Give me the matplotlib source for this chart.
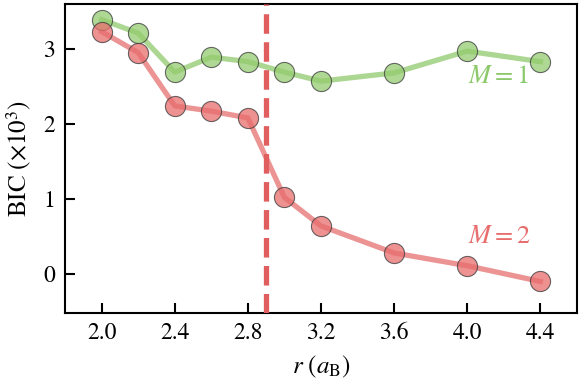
import matplotlib
matplotlib.use("Agg")
import matplotlib.pyplot as plt

r = [2.0, 2.2, 2.4, 2.6, 2.8, 3.0, 3.2, 3.6, 4.0, 4.4]
bic_m1 = [3.39, 3.21, 2.69, 2.89, 2.83, 2.69, 2.57, 2.68, 2.97, 2.83]
bic_m2 = [3.23, 2.95, 2.24, 2.17, 2.08, 1.02, 0.64, 0.28, 0.11, -0.10]
r_crit = 2.9
xticks = [2.0, 2.4, 2.8, 3.2, 3.6, 4.0, 4.4]
yticks = [0, 1, 2, 3]

plt.rcParams['font.family'] = ['STIXGeneral', 'DejaVu Serif']
plt.rcParams['mathtext.fontset'] = 'stix'

fig = plt.figure(figsize=(5.81, 3.85), dpi=100)
ax = fig.add_axes([0.112, 0.187, 0.881, 0.803])

green_line = '#acd792'
green_mk = '#93cc6f'
red_line = '#ec9494'
red_mk = '#e86d6d'

ax.plot(r, bic_m1, '-', color=green_line, lw=3.8, zorder=2)
ax.plot(r, bic_m1, 'o', ms=14.5, mfc=green_mk, mec='#3a3a3a', mew=0.8, alpha=0.75, zorder=3)
ax.plot(r, bic_m2, '-', color=red_line, lw=3.8, zorder=2)
ax.plot(r, bic_m2, 'o', ms=14.5, mfc=red_mk, mec='#3a3a3a', mew=0.8, alpha=0.75, zorder=3)
ax.axvline(r_crit, color='#e05e5e', lw=3.8, ls=(0, (3.7, 1.6)), zorder=4)

ax.text(4.005, 2.63, r'$M=1$', color='#8cc96b', fontsize=19, ha='left', va='center')
ax.text(4.005, 0.49, r'$M=2$', color='#e86d6d', fontsize=19, ha='left', va='center')

ax.set_xlim(1.8, 4.6)
ax.set_ylim(-0.52, 3.6)
ax.set_xticks(xticks)
ax.set_xticklabels([f'{t:.1f}' for t in xticks])
ax.set_yticks(yticks)
ax.tick_params(direction='in', length=7, width=1.5, labelsize=17, pad=7)
for s in ax.spines.values():
    s.set_linewidth(1.5)
ax.set_xlabel(r'$r\ (a_{\mathrm{B}})$', fontsize=18, labelpad=7)
ax.set_ylabel(r'BIC $(\times 10^3)$', fontsize=18, labelpad=7)

fig.savefig('out.png', dpi=100)
